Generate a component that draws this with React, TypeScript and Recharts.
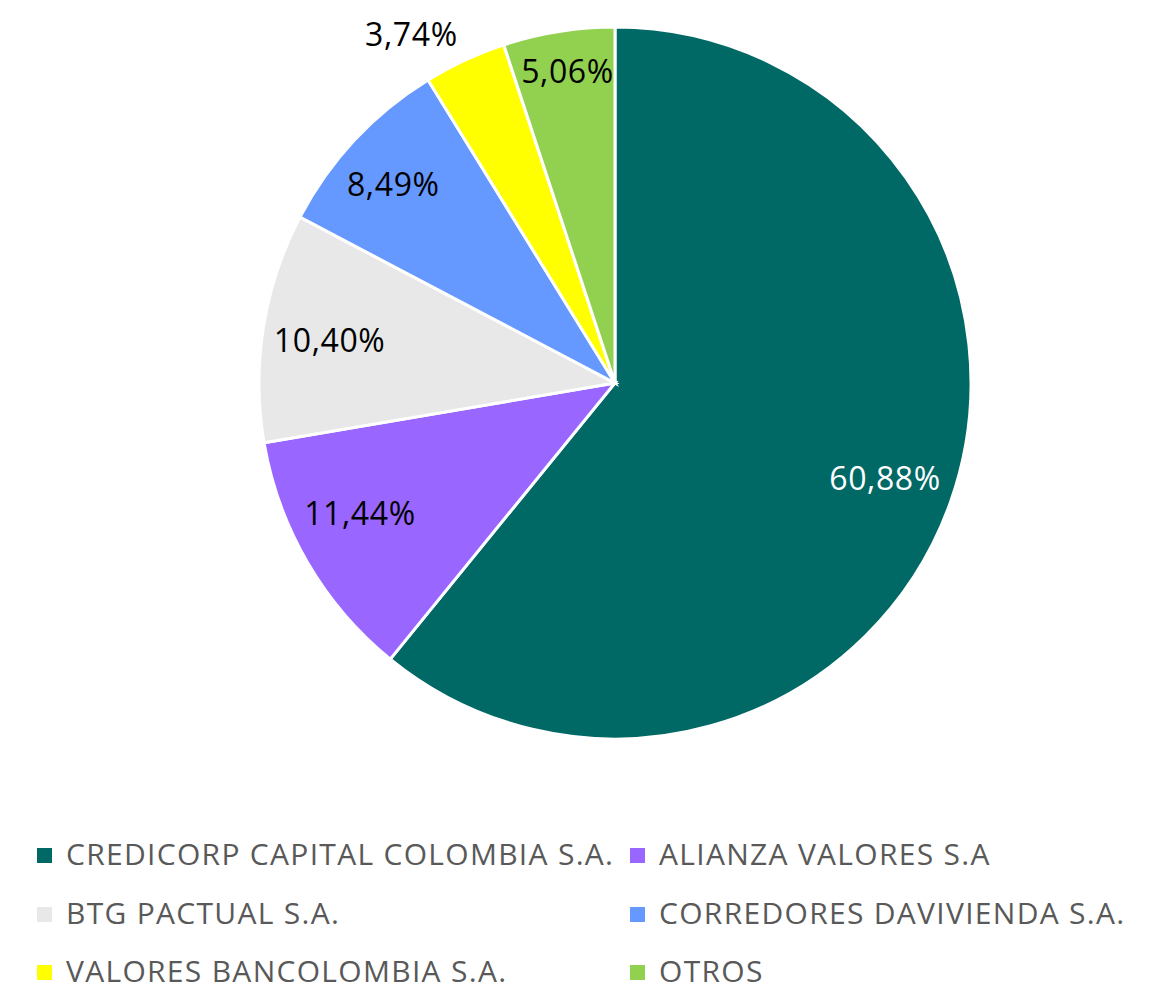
import React from "react";
import { PieChart, Pie, Cell, Legend } from "recharts";

const categories = [
  "CREDICORP CAPITAL COLOMBIA S.A.",
  "ALIANZA VALORES S.A",
  "BTG PACTUAL S.A.",
  "CORREDORES DAVIVIENDA S.A.",
  "VALORES BANCOLOMBIA S.A.",
  "OTROS",
];
const shares = [60.88, 11.44, 10.4, 8.49, 3.74, 5.06];
const colors = ["#006966", "#9966FF", "#E8E8E8", "#6699FF", "#FFFF00", "#92D050"];
const labelColors = ["#FFFFFF", "#000000", "#000000", "#000000", "#000000", "#000000"];
// label placement (style): radius factor and angle shift (degrees)
const labelRadiusFactor = [0.805, 0.806, 0.81, 0.834, 1.132, 0.882];
const labelAngleShift = [0, -3, 0.8, 1.35, 5.4, -0.4];

const data = categories.map((name, i) => ({ name, value: shares[i] }));

const FONT = "'Open Sans', Lato, sans-serif";
const RAD = Math.PI / 180;

const renderLabel = (props: any) => {
  const { cx, cy, midAngle, outerRadius, index, value } = props;
  const r = outerRadius * labelRadiusFactor[index];
  const a = midAngle + labelAngleShift[index];
  const x = cx + r * Math.cos(-a * RAD);
  const y = cy + r * Math.sin(-a * RAD) - 2;
  return (
    <text
      x={x}
      y={y}
      fill={labelColors[index]}
      textAnchor="middle"
      dominantBaseline="central"
      fontFamily={FONT}
      fontSize={32}
      letterSpacing={0.6}
    >
      {value.toFixed(2).replace(".", ",") + "%"}
    </text>
  );
};

const legendPos = [
  { left: 37, top: 854 },
  { left: 630, top: 854 },
  { left: 37, top: 913 },
  { left: 630, top: 913 },
  { left: 37, top: 971 },
  { left: 630, top: 971 },
];

const renderLegend = () => (
  <div style={{ position: "relative", width: 1168, height: 992 }}>
    {categories.map((c, i) => (
      <div
        key={c}
        style={{
          position: "absolute",
          left: legendPos[i].left,
          top: legendPos[i].top - 16,
          height: 32,
          display: "flex",
          alignItems: "center",
          whiteSpace: "nowrap",
        }}
      >
        <span
          style={{
            display: "inline-block",
            width: 15,
            height: 15,
            background: colors[i],
            marginRight: 14,
            marginTop: 2,
          }}
        />
        <span style={{ fontFamily: FONT, fontSize: 30, letterSpacing: 1.3, color: "#595959", lineHeight: "32px" }}>
          {c}
        </span>
      </div>
    ))}
  </div>
);

export default function App() {
  return (
    <div style={{ position: "absolute", left: 0, top: 0, width: 1168, height: 992, background: "#fff", overflow: "hidden" }}>
      <PieChart width={1168} height={992} margin={{ top: 0, right: 0, bottom: 0, left: 0 }}>
        <Pie
          data={data}
          dataKey="value"
          nameKey="name"
          cx={615}
          cy={383}
          outerRadius={356}
          startAngle={90}
          endAngle={-270}
          stroke="#FFFFFF"
          strokeWidth={3}
          label={renderLabel}
          labelLine={false}
          isAnimationActive={false}
        >
          {data.map((d, i) => (
            <Cell key={d.name} fill={colors[i]} />
          ))}
        </Pie>
        <Legend
          content={renderLegend}
          wrapperStyle={{ position: "absolute", left: 0, top: 0, width: 1168, height: 992, pointerEvents: "none" }}
        />
      </PieChart>
    </div>
  );
}
